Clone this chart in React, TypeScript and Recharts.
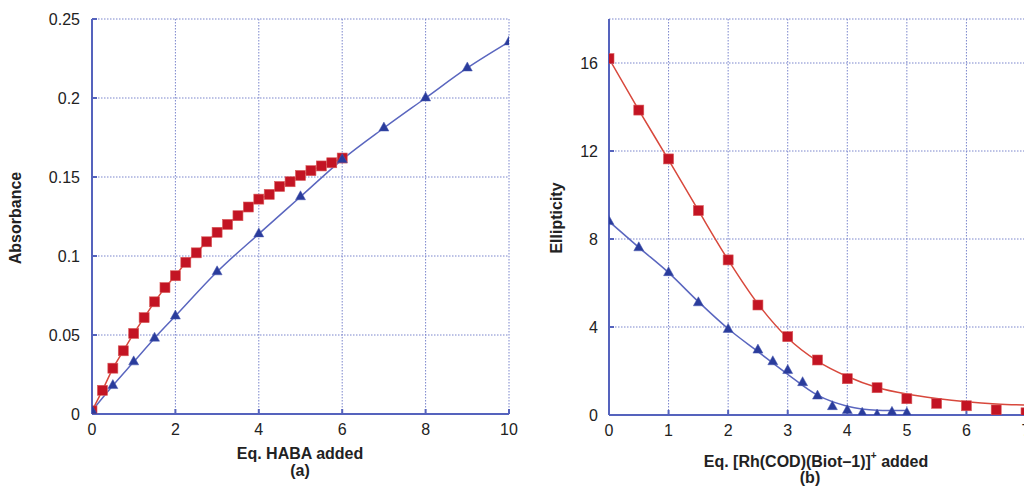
import React from 'react';
import { ComposedChart, Line, Scatter, XAxis, YAxis, CartesianGrid } from 'recharts';

// ---------- Panel (a): Absorbance vs Eq. HABA added ----------
const habaSquareX = [0, 0.25, 0.5, 0.75, 1, 1.25, 1.5, 1.75, 2, 2.25, 2.5, 2.75, 3, 3.25, 3.5, 3.75, 4, 4.25, 4.5, 4.75, 5, 5.25, 5.5, 5.75, 6];
const habaSquareY = [0.002, 0.015, 0.029, 0.04, 0.051, 0.061, 0.071, 0.08, 0.0875, 0.096, 0.102, 0.109, 0.115, 0.12, 0.1255, 0.131, 0.136, 0.139, 0.144, 0.147, 0.151, 0.154, 0.157, 0.159, 0.162];
const habaTriX = [0, 0.5, 1, 1.5, 2, 3, 4, 5, 6, 7, 8, 9, 10];
const habaTriY = [0.002, 0.018, 0.033, 0.048, 0.062, 0.09, 0.114, 0.1375, 0.161, 0.181, 0.2, 0.219, 0.2355];
const habaXTicks = [0, 2, 4, 6, 8, 10];
const habaYTicks = [0, 0.05, 0.1, 0.15, 0.2, 0.25];

// ---------- Panel (b): Ellipticity vs Eq. [Rh(COD)(Biot-1)]+ added ----------
const rhSquareX = [0, 0.5, 1, 1.5, 2, 2.5, 3, 3.5, 4, 4.5, 5, 5.5, 6, 6.5, 7];
const rhSquareY = [16.2, 13.86, 11.64, 9.29, 7.05, 5.0, 3.56, 2.5, 1.65, 1.24, 0.74, 0.53, 0.42, 0.23, 0.1];
const rhSquareFitY = [16.2, 13.86, 11.6, 9.3, 7.05, 5.05, 3.5, 2.45, 1.75, 1.25, 0.95, 0.75, 0.6, 0.5, 0.45];
const rhTriX = [0, 0.5, 1, 1.5, 2, 2.5, 2.75, 3, 3.25, 3.5, 3.75, 4, 4.25, 4.5, 4.75, 5];
const rhTriY = [8.79, 7.6, 6.47, 5.1, 3.89, 2.95, 2.42, 2.02, 1.47, 0.86, 0.38, 0.2, 0.08, 0.0, 0.12, 0.08];
const rhTriFitX = [0, 0.5, 1, 1.5, 2, 2.5, 3, 3.5, 4, 4.5, 5];
const rhTriFitY = [8.8, 7.62, 6.47, 5.15, 3.92, 2.88, 1.85, 0.9, 0.4, 0.22, 0.2];
const rhXTicks = [0, 1, 2, 3, 4, 5, 6, 7];
const rhYTicks = [0, 4, 8, 12, 16];

const zip = (xs: number[], ys: number[]) => xs.map((x, i) => ({ x, y: ys[i] }));

const AXIS = '#5563bd';
const GRID = '#7a85cc';
const RED_FILL = '#c31423';
const RED_LINE = '#d8483c';
const BLUE_FILL = '#2a3c9c';
const BLUE_LINE = '#5a66bf';
const FONT = '"Liberation Sans", Arial, Helvetica, sans-serif';
const tickStyle = { fill: '#222', fontSize: 16, fontFamily: FONT };

const Square = (props: any) => {
  const { cx, cy } = props;
  if (cx == null || cy == null) return null;
  const s = 10;
  return <rect x={cx - s / 2} y={cy - s / 2} width={s} height={s} fill={RED_FILL} stroke="#d95a5a" strokeWidth={0.6} />;
};

const Triangle = (props: any) => {
  const { cx, cy } = props;
  if (cx == null || cy == null) return null;
  const w = 10;
  const h = 9;
  const pts = `${cx},${cy - (2 * h) / 3} ${cx - w / 2},${cy + h / 3} ${cx + w / 2},${cy + h / 3}`;
  return <polygon points={pts} fill={BLUE_FILL} stroke="#4a5ab0" strokeWidth={0.5} />;
};

const axisLine = { stroke: AXIS, strokeWidth: 2 };
const tickLine = { stroke: AXIS, strokeWidth: 2 };

function PanelA() {
  return (
    <ComposedChart width={540} height={487} margin={{ top: 19, right: 31, bottom: 43, left: 32 }}>
      <CartesianGrid stroke={GRID} strokeDasharray="1.5 1.5" strokeWidth={1} />
      <XAxis type="number" dataKey="x" domain={[0, 10]} ticks={habaXTicks} height={30} tickSize={-5} tickMargin={15}
        axisLine={axisLine} tickLine={tickLine} tick={tickStyle} allowDataOverflow />
      <XAxis xAxisId="top" orientation="top" type="number" domain={[0, 10]} ticks={habaXTicks} height={0} tickSize={-5}
        tick={false} axisLine={axisLine} tickLine={tickLine} allowDataOverflow />
      <YAxis type="number" dataKey="y" domain={[0, 0.25]} ticks={habaYTicks} width={60} tickSize={-5} tickMargin={17}
        tickFormatter={(v: number) => String(v)} axisLine={axisLine} tickLine={tickLine} tick={tickStyle} allowDataOverflow />
      <YAxis yAxisId="right" orientation="right" type="number" domain={[0, 0.25]} ticks={habaYTicks} width={0} tickSize={-5}
        tick={false} axisLine={axisLine} tickLine={tickLine} allowDataOverflow />
      <Line data={zip(habaSquareX, habaSquareY)} dataKey="y" type="linear" stroke={RED_LINE} strokeWidth={1.5} dot={false} isAnimationActive={false} />
      <Line data={zip(habaTriX, habaTriY)} dataKey="y" type="monotone" stroke={BLUE_LINE} strokeWidth={1.5} dot={false} isAnimationActive={false} />
      <Scatter data={zip(habaSquareX, habaSquareY)} dataKey="y" shape={<Square />} isAnimationActive={false} />
      <Scatter data={zip(habaTriX, habaTriY)} dataKey="y" shape={<Triangle />} isAnimationActive={false} />
    </ComposedChart>
  );
}

function PanelB() {
  return (
    <ComposedChart width={540} height={487} margin={{ top: 19, right: 34, bottom: 42, left: 29 }}>
      <CartesianGrid stroke={GRID} strokeDasharray="1.5 1.5" strokeWidth={1} />
      <XAxis type="number" dataKey="x" domain={[0, 7]} ticks={rhXTicks} height={30} tickSize={-5} tickMargin={15}
        axisLine={axisLine} tickLine={tickLine} tick={tickStyle} allowDataOverflow />
      <XAxis xAxisId="top" orientation="top" type="number" domain={[0, 7]} ticks={rhXTicks} height={0} tickSize={-5}
        tick={false} axisLine={axisLine} tickLine={tickLine} allowDataOverflow />
      <YAxis type="number" dataKey="y" domain={[0, 18]} ticks={rhYTicks} width={60} tickSize={-5} tickMargin={16}
        axisLine={axisLine} tickLine={tickLine} tick={tickStyle} allowDataOverflow />
      <YAxis yAxisId="right" orientation="right" type="number" domain={[0, 18]} ticks={rhYTicks} width={0} tickSize={-5}
        tick={false} axisLine={axisLine} tickLine={tickLine} allowDataOverflow />
      <Line data={zip(rhSquareX, rhSquareFitY)} dataKey="y" type="monotone" stroke={RED_LINE} strokeWidth={1.5} dot={false} isAnimationActive={false} />
      <Line data={zip(rhTriFitX, rhTriFitY)} dataKey="y" type="monotone" stroke={BLUE_LINE} strokeWidth={1.5} dot={false} isAnimationActive={false} />
      <Scatter data={zip(rhSquareX, rhSquareY)} dataKey="y" shape={<Square />} isAnimationActive={false} />
      <Scatter data={zip(rhTriX, rhTriY)} dataKey="y" shape={<Triangle />} isAnimationActive={false} />
    </ComposedChart>
  );
}

export default function App() {
  const title = { fill: '#222', fontSize: 16, fontWeight: 700, fontFamily: FONT } as const;
  return (
    <div style={{ position: 'absolute', left: 0, top: 0, width: 1024, height: 487, overflow: 'hidden', background: '#fff' }}>
      <div style={{ position: 'absolute', left: 0, top: 0 }}>
        <PanelA />
      </div>
      <div style={{ position: 'absolute', left: 520, top: 0 }}>
        <PanelB />
      </div>
      <svg width={1024} height={487} style={{ position: 'absolute', left: 0, top: 0, pointerEvents: 'none' }}>
        <text x={300} y={459} textAnchor="middle" {...title}>Eq. HABA added</text>
        <text x={300} y={476} textAnchor="middle" {...title}>(a)</text>
        <text x={21} y={218} textAnchor="middle" transform="rotate(-90, 21, 218)" {...title}>Absorbance</text>
        <text x={816} y={467} textAnchor="middle" {...title}>
          Eq. [Rh(COD)(Biot–1)]<tspan dy={-8} fontSize={10}>+</tspan><tspan dy={8}> added</tspan>
        </text>
        <text x={810} y={483} textAnchor="middle" {...title}>(b)</text>
        <text x={562} y={218} textAnchor="middle" transform="rotate(-90, 562, 218)" {...title}>Ellipticity</text>
      </svg>
    </div>
  );
}
